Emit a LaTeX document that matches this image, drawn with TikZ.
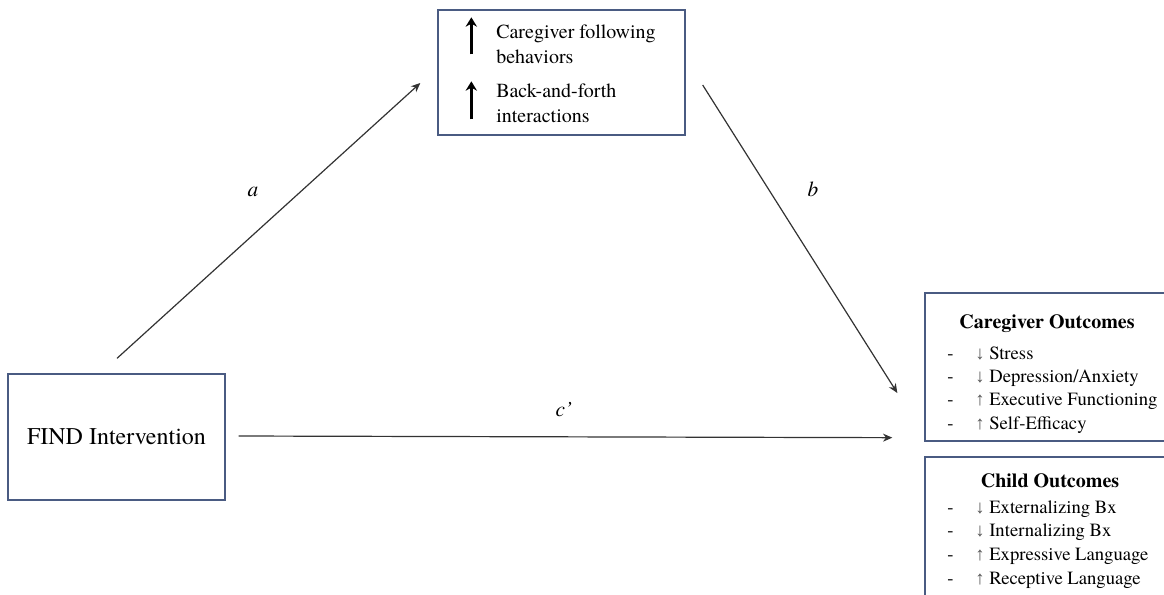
\documentclass[tikz,border=0pt]{standalone}
\usepackage{fontspec}
\IfFontExistsTF{texgyretermes-regular.otf}
  {\setmainfont{texgyretermes-regular.otf}[BoldFont=texgyretermes-bold.otf,ItalicFont=texgyretermes-italic.otf]}
  {\setmainfont{Liberation Serif}}
\newfontfamily\arrowfont{Liberation Serif}
\usepackage{xcolor}
\usetikzlibrary{calc,arrows.meta,positioning}
\definecolor{framex}{HTML}{4A5B82}
\definecolor{linex}{HTML}{333333}
\definecolor{arrx}{HTML}{555555}
\tikzset{
  ar/.style={-{Stealth[length=7pt,width=6pt]},line width=0.9pt,linex},
  box/.style={draw=framex,line width=1pt,inner sep=0pt},
  bigar/.style={-{Stealth[length=7pt,width=8.5pt]},line width=1.8pt},
  lbl/.style={font=\fontsize{16}{19}\selectfont\itshape,inner sep=0pt},
  head/.style={anchor=base,inner sep=0pt,font=\fontsize{15}{18}\selectfont\bfseries},
  lst/.style={anchor=base west,inner sep=0pt}
}
\newcommand{\itemdn}{\makebox[21pt][l]{-}{\color{arrx}\arrowfont ↓} }
\newcommand{\itemup}{\makebox[21pt][l]{-}{\color{arrx}\arrowfont ↑} }

\begin{document}
\begin{tikzpicture}[x=0.75pt,y=-0.75pt]
\useasboundingbox (0,0) rectangle (1164,594);
% boxes
\node[box,minimum width=162.75pt,minimum height=94.5pt,font=\fontsize{18}{22}\selectfont] (find) at (116.5,437) {FIND Intervention};
\node[box,minimum width=185.25pt,minimum height=93.75pt] (med) at (561.5,72.5) {};
\node[box,minimum width=187.5pt,minimum height=111pt] (cg) at (1050,367) {};
\node[box,minimum width=187.5pt,minimum height=107.25pt] (ch) at (1050,528.5) {};
% mediator text
\node[lst,font=\fontsize{15}{18.75}\selectfont] (medtxt) at (496,38)
  {\begin{tabular}[t]{@{}l@{}}Caregiver following\\behaviors\\[6.75pt]Back-and-forth\\interactions\end{tabular}};
\draw[bigar] ($(med.north west)+(34,45)$) -- ($(med.north west)+(34,8)$);
\draw[bigar] ($(med.north west)+(34,110)$) -- ($(med.north west)+(34,72)$);
% outcomes
\node[head] (cghead) at (1047,328) {Caregiver Outcomes};
\node[lst,font=\fontsize{14}{17.5}\selectfont] (cglist) at (947,359)
  {\begin{tabular}[t]{@{}l@{}}\itemdn Stress\\\itemdn Depression/Anxiety\\\itemup Executive Functioning\\\itemup Self-Efficacy\end{tabular}};
\node[head] (chhead) at (1050,487) {Child Outcomes};
\node[lst,font=\fontsize{14}{17.8}\selectfont] (chlist) at (947,513)
  {\begin{tabular}[t]{@{}l@{}}\itemdn Externalizing Bx\\\itemdn Internalizing Bx\\\itemup Expressive Language\\\itemup Receptive Language\end{tabular}};
% paths
\draw[ar] ($(find.north)+(0.5,-15)$) -- ($(med.west)+(-17,10.5)$);
\draw[ar] ($(med.east)+(17,12.5)$) -- ($(cg.west)+(-27,26)$);
\draw[ar] ($(find.east)+(13,-1)$) -- ($(cg.south west)+(-32,-4)$);
\node[lbl] (la) at (253,192) {a};
\node[lbl] (lb) at (813,189) {b};
\node[lbl] (lc) at (564,410) {c’};
\end{tikzpicture}
\end{document}
